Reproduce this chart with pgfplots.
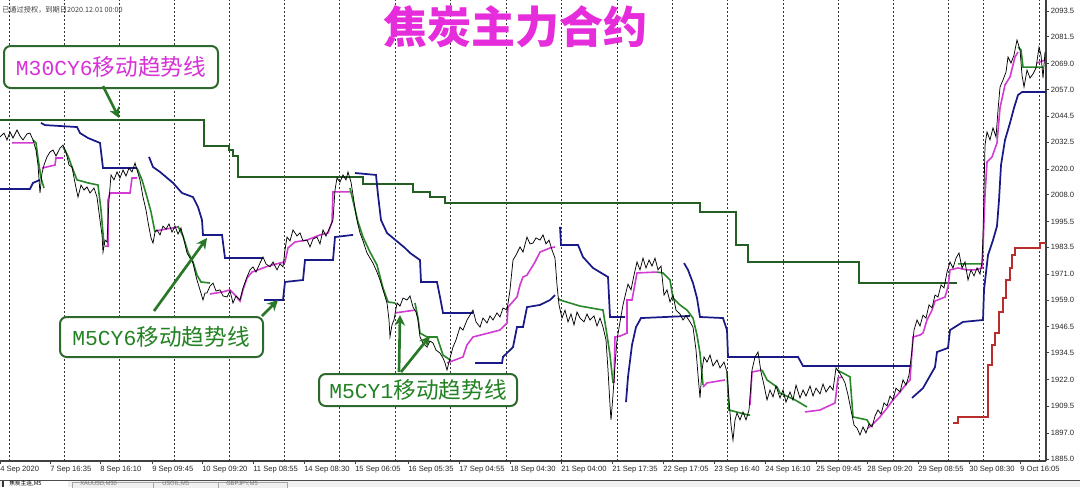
\documentclass[border=0pt]{standalone}
\usepackage{fontspec}
\setmainfont{Liberation Sans}
\newfontfamily\cjk{Noto Sans CJK SC}
\newfontfamily\mono{Liberation Mono}
\usepackage{pgfplots}
\pgfplotsset{compat=1.18}
\usetikzlibrary{arrows.meta}
\definecolor{cMag}{RGB}{210,60,210}
\definecolor{cGrn}{RGB}{40,135,40}
\definecolor{cNavy}{RGB}{25,25,135}
\definecolor{cMthirty}{RGB}{35,95,35}
\definecolor{cRed}{RGB}{185,45,45}
\definecolor{cTitle}{RGB}{230,45,220}
\definecolor{cTxtMag}{RGB}{215,50,215}
\definecolor{cTxtGrn}{RGB}{35,130,35}
\definecolor{cBox}{RGB}{45,105,45}
\definecolor{cArrow}{RGB}{40,120,40}
\definecolor{barGray}{RGB}{240,240,240}
\begin{document}
\begin{tikzpicture}
\useasboundingbox (0,0) rectangle (810pt,365.25pt);
% bottom tab bar
\begin{scope}[x=0.75pt,y=-0.75pt,shift={(0pt,365.25pt)}]
  \fill[barGray] (0,481) rectangle (1080,487);
  \draw[black!70, line width=0.9pt] (0,480.5) -- (1080,480.5);
  \fill[white] (3,481.2) rectangle (68,487);
  \draw[black!80, line width=0.8pt] (3,481) -- (3,487);
  \node[anchor=west, inner sep=0pt, font=\cjk\fontsize{4.3}{5}\selectfont] at (9,484) {焦炭主连,M5};
  \draw[black!35, line width=0.5pt, fill=black!6] (72,482) rectangle (153,490);
  \draw[black!35, line width=0.5pt, fill=black!6] (153,482) rectangle (218,490);
  \draw[black!35, line width=0.5pt, fill=black!6] (218,482) rectangle (287,490);
  \node[anchor=west, inner sep=0pt, text=black!55, font=\fontsize{4.3}{5}\selectfont] at (80,484.3) {XAUUSD,M30};
  \node[anchor=west, inner sep=0pt, text=black!55, font=\fontsize{4.3}{5}\selectfont] at (162,484.3) {USOIL,M5};
  \node[anchor=west, inner sep=0pt, text=black!55, font=\fontsize{4.3}{5}\selectfont] at (226,484.3) {GBPJPY,M5};
\end{scope}
\begin{axis}[
  at={(0pt,19.5pt)}, anchor=south west,
  scale only axis, width=784.5pt, height=345.75pt,
  xmin=0, xmax=1046, ymin=1884.07, ymax=2098.62,
  axis x line*=bottom, axis y line*=right,
  axis line style={black!75, line width=0.9pt, -},
  tick align=outside, major tick length=2.5pt,
  tick style={black!75, line width=0.6pt},
  xtick={0,50,100,152,202,253,304,355,408,459,510,561,612,663,714,765,816,867,918,969,1020},
  xticklabels={4 Sep 2020,7 Sep 16:35,8 Sep 16:10,9 Sep 09:45,10 Sep 09:20,11 Sep 08:55,14 Sep 08:30,15 Sep 06:05,16 Sep 05:35,17 Sep 04:55,18 Sep 04:30,21 Sep 04:00,21 Sep 17:35,22 Sep 17:05,23 Sep 16:40,24 Sep 16:10,25 Sep 09:45,28 Sep 09:20,29 Sep 08:55,30 Sep 08:30,9 Oct 16:05},
  xticklabel style={anchor=north west, inner sep=0pt, yshift=-1pt},
  ytick={2093.5,2081.5,2069.0,2057.0,2044.5,2032.5,2020.0,2008.0,1995.5,1983.5,1971.0,1959.0,1946.5,1934.5,1922.0,1909.5,1897.0,1885.0},
  yticklabels={2093.5,2081.5,2069.0,2057.0,2044.5,2032.5,2020.0,2008.0,1995.5,1983.5,1971.0,1959.0,1946.5,1934.5,1922.0,1909.5,1897.0,1885.0},
  yticklabel style={anchor=west, inner sep=0pt, xshift=1pt},
  ticklabel style={font=\fontsize{5.7}{6}\selectfont, text=black!85},
  extra x ticks={9,64,119,174,229,284,339,395,450,506,561,617,672,727,783,838,893,948,983,1039},
  extra x tick labels={},
  extra x tick style={grid=major, major tick length=0pt},
  major grid style={black!80, line width=0.5pt, dash pattern=on 1.5pt off 1.5pt},
  unbounded coords=jump,
]
% M30 trend line (dark green)
\addplot[cMthirty, line width=1.3pt] coordinates {
(0,2042.8)(204,2042.8)(204,2030.7)(229,2030.7)(229,2028.8)(233,2028.8)(233,2026.0)(238,2026.0)(238,2016.2)(363,2016.2)(363,2013.0)(413,2013.0)(413,2009.3)(430,2009.3)(430,2006.9)(445,2006.9)(445,2004.1)(700,2004.1)(700,2000.0)(736,2000.0)(736,1984.6)(748,1984.6)(748,1976.7)(859,1976.7)(859,1966.9)(957,1966.9)
};
% red line
\addplot[cRed, line width=1.2pt] coordinates {
(953,1901.8)(958,1901.8)(958,1904.6)(988,1904.6)(988,1928.8)(992,1928.8)(992,1938.1)(995,1938.1)(995,1943.6)(999,1943.6)(999,1953.4)(1003,1953.4)(1003,1959.9)(1006,1959.9)(1006,1968.3)(1010,1968.3)(1010,1973.9)(1012,1973.9)(1012,1979.9)(1015,1979.9)(1015,1983.2)(1040,1983.2)(1040,1985.5)(1046,1985.5)
};
% navy M5CY6
\addplot[cNavy, line width=1.3pt] coordinates {
(0,2010.7)(30,2010.7)(33,2013.5)(40,2014.9)(0,nan)
(41,2041.4)(45,2040.4)(77,2039.5)(80,2036.7)(88,2034.4)(100,2032.1)(103,2020.4)(137,2020.4)(0,nan)
(149,2025.6)(153,2020.9)(160,2018.6)(173,2013.5)(182,2008.8)(193,2006.9)(198,2002.3)(202,1996.2)(203,1989.3)(222,1989.3)(225,1978.5)(263,1978.5)(0,nan)
(264,1959.0)(283,1959.0)(285,1967.4)(303,1968.3)(305,1977.6)(333,1977.6)(335,1988.3)(353,1989.3)(0,nan)
(355,2018.1)(376,2017.2)(378,2007.9)(381,1996.2)(387,1990.2)(405,1983.2)(410,1980.9)(420,1977.6)(421,1967.4)(437,1967.4)(440,1960.4)(443,1953.0)(473,1953.0)(0,nan)
(475,1929.7)(502,1929.7)(503,1932.5)(513,1937.1)(517,1946.4)(523,1946.4)(527,1955.7)(540,1956.7)(550,1959.0)(555,1961.3)(0,nan)
(560,1993.0)(561,1984.6)(578,1984.6)(583,1979.0)(593,1973.9)(608,1969.7)(610,1951.1)(625,1951.1)(0,nan)
(626,1911.5)(628,1923.2)(632,1938.1)(636,1946.4)(641,1950.6)(690,1951.6)(0,nan)
(684,1976.2)(688,1973.0)(693,1966.9)(697,1959.9)(700,1951.1)(723,1950.6)(727,1945.0)(728,1932.5)(798,1932.5)(803,1928.3)(912,1928.3)(0,nan)
(912,1913.4)(923,1918.0)(935,1927.8)(937,1934.8)(948,1936.7)(950,1945.0)(963,1948.8)(983,1949.7)(984,1963.7)(988,1979.9)(993,1986.9)(997,1993.4)(999,2005.5)(1001,2021.8)(1005,2033.5)(1010,2041.4)(1014,2048.4)(1018,2054.4)(1022,2055.8)(1046,2055.8)
};
% magenta M5CY1 (up)
\addplot[cMag, line width=1.2pt] coordinates {
(12,2032.1)(33,2032.1)(0,nan)
(42,2020.4)(55,2021.8)(56,2025.1)(63,2025.1)(0,nan)
(105,1984.1)(108,1984.1)(108,2005.5)(110,2008.8)(130,2008.8)(132,2015.8)(137,2015.8)(0,nan)
(155,1991.1)(166,1992.0)(178,1993.0)(0,nan)
(210,1961.8)(222,1962.7)(230,1963.7)(235,1961.3)(240,1958.5)(243,1963.7)(247,1969.2)(252,1972.0)(258,1973.0)(268,1974.8)(280,1976.2)(285,1976.7)(288,1983.2)(295,1986.0)(307,1986.9)(320,1989.3)(328,1990.2)(332,1995.3)(333,2009.3)(350,2009.3)(0,nan)
(395,1953.0)(415,1954.3)(0,nan)
(447,1929.7)(463,1932.5)(467,1938.1)(473,1941.8)(500,1945.0)(507,1948.3)(508,1955.7)(517,1960.4)(520,1966.0)(523,1969.7)(527,1970.6)(535,1976.7)(540,1981.3)(550,1983.2)(555,1983.7)(0,nan)
(614,1920.4)(615,1941.8)(620,1942.2)(627,1943.6)(627,1959.0)(632,1959.0)(637,1971.6)(657,1972.0)(0,nan)
(703,1918.5)(707,1920.4)(725,1921.8)(0,nan)
(750,1910.1)(752,1925.5)(762,1926.4)(0,nan)
(805,1906.9)(820,1907.8)(835,1911.1)(838,1922.7)(842,1923.2)(0,nan)
(868,1899.4)(872,1900.8)(880,1904.6)(887,1908.7)(893,1912.5)(900,1916.2)(907,1920.4)(910,1921.8)(913,1941.8)(920,1942.7)(923,1943.6)(927,1949.7)(932,1954.3)(935,1958.5)(945,1960.4)(948,1965.1)(950,1973.0)(958,1973.9)(967,1973.0)(975,1973.0)(982,1973.9)(983,1983.7)(985,2007.9)(987,2023.2)(992,2025.6)(997,2032.1)(1000,2048.4)(1005,2059.1)(1010,2062.8)(1015,2072.1)(1018,2074.4)(0,nan)
(1037,2069.3)(1045,2070.7)
};
% green M5CY1 (down)
\addplot[cGrn, line width=1.2pt] coordinates {
(33,2033.5)(36,2032.1)(38,2025.1)(41,2015.8)(44,2011.1)(0,nan)
(63,2030.2)(68,2026.0)(72,2020.9)(77,2014.9)(88,2013.5)(98,2012.5)(101,2000.9)(104,1984.6)(0,nan)
(137,2020.4)(142,2014.9)(147,2006.9)(151,2000.0)(155,1990.6)(0,nan)
(178,1993.4)(183,1988.8)(188,1981.3)(193,1976.7)(197,1970.6)(201,1967.4)(210,1966.9)(0,nan)
(350,2011.1)(354,2003.2)(358,1995.3)(363,1988.3)(370,1981.3)(377,1975.3)(383,1964.6)(388,1958.1)(395,1957.6)(0,nan)
(415,1957.6)(418,1950.6)(420,1943.6)(427,1941.8)(437,1941.8)(443,1933.4)(450,1931.1)(0,nan)
(558,1959.9)(560,1959.0)(580,1956.2)(603,1954.3)(607,1942.7)(610,1933.4)(613,1920.4)(0,nan)
(657,1972.0)(663,1971.6)(670,1968.3)(673,1959.9)(680,1956.7)(687,1954.3)(693,1950.6)(697,1942.7)(700,1934.3)(703,1919.4)(0,nan)
(727,1925.5)(729,1907.8)(748,1905.5)(750,1905.5)(0,nan)
(762,1926.4)(767,1921.8)(777,1918.5)(780,1915.7)(795,1912.5)(807,1909.2)(0,nan)
(837,1926.4)(843,1925.0)(850,1923.2)(853,1904.6)(867,1903.2)(870,1900.8)(0,nan)
(958,1975.8)(982,1975.8)(0,nan)
(1018,2076.7)(1021,2075.4)(1023,2067.4)(1043,2067.4)
};
% price
\addplot[black, line width=0.55pt] coordinates {
(0,2034.9)(4,2036.7)(7,2033.5)(10,2037.2)(13,2034.4)(17,2038.1)(20,2035.3)(23,2033.5)(27,2036.3)(30,2036.7)(33,2033.5)(36,2028.8)(38,2021.8)(40,2008.8)(42,2018.1)(44,2021.8)(47,2025.6)(50,2027.9)(53,2028.8)(56,2026.0)(60,2029.7)(63,2031.1)(66,2027.9)(69,2021.8)(72,2020.9)(75,2013.5)(78,2006.9)(81,2012.5)(84,2010.2)(87,2011.6)(90,2008.8)(94,2011.1)(97,2006.9)(100,1996.2)(102,1989.3)(103,1981.3)(105,1986.9)(107,1986.0)(109,2005.5)(111,2017.2)(114,2014.9)(117,2018.6)(120,2015.8)(123,2019.5)(126,2016.7)(129,2020.4)(132,2018.6)(135,2022.8)(137,2019.5)(140,2014.9)(143,2006.9)(146,2000.9)(148,1995.3)(151,1987.9)(153,1985.5)(155,1990.6)(157,1991.6)(160,1989.3)(163,1993.4)(166,1992.0)(169,1994.4)(172,1990.6)(175,1993.4)(178,1989.7)(181,1992.5)(184,1986.9)(187,1980.9)(190,1978.5)(193,1976.2)(195,1972.0)(197,1968.3)(200,1963.7)(203,1959.0)(205,1962.3)(207,1962.3)(210,1965.5)(213,1966.9)(216,1963.2)(220,1963.7)(223,1960.9)(227,1960.4)(230,1963.2)(233,1957.6)(236,1960.9)(240,1959.0)(243,1964.6)(247,1969.7)(250,1973.0)(253,1974.4)(256,1972.0)(260,1976.2)(263,1979.0)(266,1975.8)(270,1974.4)(273,1976.7)(277,1973.0)(280,1975.8)(283,1974.4)(285,1982.3)(287,1988.3)(290,1986.5)(293,1991.6)(297,1988.8)(300,1990.2)(303,1986.5)(307,1986.9)(310,1983.7)(313,1987.4)(317,1988.3)(320,1985.1)(323,1991.6)(326,1988.8)(330,1993.0)(333,1996.2)(335,2010.2)(337,2015.8)(340,2013.9)(343,2017.2)(346,2014.9)(348,2018.6)(351,2013.9)(353,2007.9)(356,1998.6)(358,1993.9)(360,1990.2)(363,1986.5)(367,1980.9)(370,1978.5)(373,1976.2)(377,1972.0)(380,1968.3)(383,1963.7)(387,1957.6)(389,1949.7)(390,1941.8)(392,1947.4)(394,1949.7)(397,1957.6)(400,1956.2)(403,1959.9)(407,1959.0)(410,1960.9)(413,1955.7)(416,1953.4)(418,1949.7)(420,1941.8)(423,1939.0)(427,1937.1)(430,1939.9)(433,1939.0)(436,1935.7)(440,1934.3)(443,1932.0)(445,1929.7)(447,1926.4)(450,1932.0)(453,1937.1)(456,1940.4)(460,1946.4)(463,1945.0)(467,1949.7)(470,1952.0)(473,1954.3)(476,1948.8)(480,1946.4)(483,1950.6)(487,1948.3)(490,1951.6)(493,1949.7)(497,1953.0)(500,1951.1)(503,1955.3)(507,1954.3)(510,1963.7)(513,1977.6)(516,1979.9)(520,1983.7)(523,1981.3)(527,1988.3)(530,1985.1)(533,1985.5)(536,1987.9)(540,1986.9)(543,1989.3)(546,1985.1)(549,1986.9)(552,1982.3)(555,1978.5)(557,1966.0)(559,1956.7)(562,1950.6)(565,1954.3)(568,1948.8)(571,1952.5)(574,1947.4)(577,1953.4)(580,1950.6)(584,1948.8)(587,1952.5)(590,1949.7)(594,1951.6)(597,1946.9)(600,1950.6)(603,1946.4)(606,1940.4)(608,1926.4)(610,1910.1)(611,1903.2)(613,1914.8)(615,1928.8)(617,1940.4)(620,1948.8)(623,1956.7)(626,1962.7)(628,1966.4)(631,1963.7)(634,1970.6)(637,1976.7)(640,1973.0)(643,1978.5)(646,1973.9)(649,1977.6)(652,1974.8)(655,1978.5)(658,1973.0)(661,1974.8)(664,1961.3)(667,1963.7)(670,1958.1)(673,1961.3)(676,1954.3)(680,1952.5)(683,1949.7)(686,1951.6)(690,1948.8)(693,1946.4)(696,1935.7)(698,1924.1)(700,1913.4)(702,1926.4)(704,1932.5)(707,1930.1)(710,1933.4)(713,1928.3)(717,1931.1)(720,1927.4)(724,1930.1)(727,1925.5)(729,1912.5)(731,1900.8)(733,1893.8)(735,1903.2)(737,1906.4)(740,1903.2)(743,1906.9)(746,1903.2)(749,1907.8)(752,1926.4)(755,1932.5)(758,1934.8)(761,1925.5)(764,1919.4)(767,1912.5)(770,1917.1)(773,1913.9)(776,1919.0)(780,1913.4)(783,1917.1)(786,1911.5)(790,1916.2)(793,1912.5)(796,1919.4)(800,1913.4)(803,1917.1)(806,1914.3)(810,1919.0)(813,1914.3)(816,1918.0)(820,1915.3)(823,1919.9)(826,1916.2)(830,1919.0)(833,1917.1)(836,1927.4)(839,1925.5)(842,1923.2)(845,1920.4)(848,1914.8)(851,1907.8)(854,1900.8)(857,1899.4)(860,1896.2)(863,1899.9)(866,1897.1)(869,1901.3)(872,1899.9)(875,1905.0)(878,1907.8)(881,1905.9)(884,1911.1)(887,1909.7)(890,1914.3)(893,1912.5)(896,1918.0)(900,1916.2)(903,1921.8)(906,1919.4)(909,1924.1)(912,1935.7)(914,1945.0)(917,1949.7)(920,1946.9)(923,1952.0)(926,1950.6)(929,1956.7)(932,1955.3)(935,1961.3)(938,1960.4)(941,1966.0)(944,1964.6)(947,1972.0)(950,1976.7)(953,1973.9)(956,1978.5)(959,1980.9)(962,1973.9)(965,1976.7)(968,1968.3)(971,1973.0)(974,1970.2)(977,1973.9)(980,1971.1)(982,1976.7)(983,1989.3)(984,2010.2)(985,2031.1)(987,2037.2)(990,2033.5)(993,2039.1)(996,2034.9)(998,2047.4)(1000,2058.1)(1003,2061.4)(1006,2065.1)(1008,2072.1)(1011,2069.3)(1014,2073.0)(1017,2080.0)(1020,2075.4)(1022,2063.7)(1024,2058.1)(1027,2066.0)(1030,2062.3)(1033,2064.2)(1036,2067.0)(1039,2076.7)(1041,2073.0)(1043,2062.3)(1045,2074.4)
};
\end{axis}
% annotations in pixel coordinates
\begin{scope}[x=0.75pt,y=-0.75pt,shift={(0pt,365.25pt)}]
  \node[anchor=west, inner sep=0pt, text=black!75, font=\cjk\fontsize{5.4}{6}\selectfont] at (2,10) {已通过授权，到期日2020.12.01 00:00};
  \node[text=cTitle, inner sep=0pt, font=\cjk\bfseries\fontsize{33}{36}\selectfont] at (515,27) {焦炭主力合约};
  % box 1
  \draw[cBox, line width=1.5pt, rounded corners=5pt, fill=white] (4,46) rectangle (218,88);
  \node[text=cTxtMag, inner sep=0pt] at (111,67) {{\mono\fontsize{16}{18}\selectfont M30CY6}{\cjk\fontsize{17}{18}\selectfont 移动趋势线}};
  \draw[cArrow, line width=2pt, -{Stealth[length=8pt,width=8pt]}] (103,86) -- (119,118);
  % box 2
  \draw[cBox, line width=1.5pt, rounded corners=5pt, fill=white] (60,317) rectangle (263,357);
  \node[text=cTxtGrn, inner sep=0pt] at (161,337) {{\mono\fontsize{16}{18}\selectfont M5CY6}{\cjk\fontsize{17}{18}\selectfont 移动趋势线}};
  \draw[cArrow, line width=2pt, -{Stealth[length=8pt,width=8pt]}] (154,311) -- (207,238);
  \draw[cArrow, line width=2pt, -{Stealth[length=8pt,width=8pt]}] (262,316) -- (278,300);
  % box 3
  \draw[cBox, line width=1.5pt, rounded corners=5pt, fill=white] (319,374) rectangle (517,406);
  \node[text=cTxtGrn, inner sep=0pt] at (418,390) {{\mono\fontsize{16}{18}\selectfont M5CY1}{\cjk\fontsize{17}{18}\selectfont 移动趋势线}};
  \draw[cArrow, line width=2pt, -{Stealth[length=8pt,width=8pt]}] (399,372) -- (400,315);
  \draw[cArrow, line width=2pt, -{Stealth[length=8pt,width=8pt]}] (401,372) -- (430,336);
\end{scope}
\end{tikzpicture}
\end{document}
